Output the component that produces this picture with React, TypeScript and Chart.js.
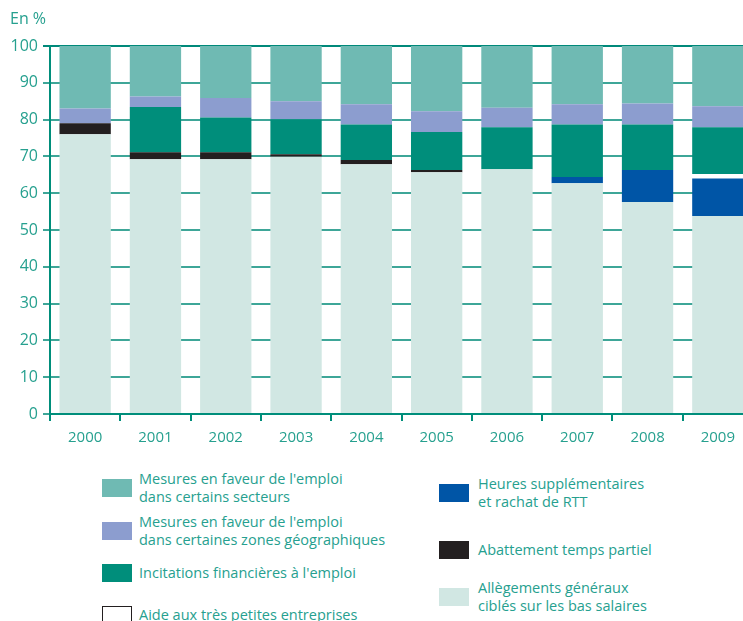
import React, { useEffect, useRef } from "react";
import Chart from "chart.js/auto";

const years = ["2000", "2001", "2002", "2003", "2004", "2005", "2006", "2007", "2008", "2009"];
const allegements = [76, 69.2, 69.2, 69.9, 67.9, 65.7, 66.5, 62.7, 57.6, 53.8];
const heuresSupp = [0, 0, 0, 0, 0, 0, 0, 1.7, 8.7, 10.2];
const abattement = [3, 1.9, 1.9, 0.7, 1.1, 0.6, 0, 0, 0, 0];
const aideTPE = [0, 0, 0, 0, 0, 0, 0, 0, 0, 1.2];
const incitations = [0, 12.3, 9.5, 9.5, 9.7, 10.3, 11.4, 14.3, 12.4, 12.7];
const zonesGeo = [4, 2.9, 5.3, 4.9, 5.5, 5.7, 5.3, 5.5, 5.7, 5.7];
const secteurs = [17, 13.7, 14.1, 15, 15.8, 17.7, 16.8, 15.8, 15.6, 16.4];
const yTicks = [0, 10, 20, 30, 40, 50, 60, 70, 80, 90, 100];

const TEXT = "#26a08f";
const FONT = "'Open Sans', sans-serif";

const C_SECT = "#6fbab3";
const C_ZONE = "#8c9dcf";
const C_INC = "#008e7b";
const C_TPE = "#ffffff";
const C_HS = "#0055a6";
const C_ABAT = "#231f20";
const C_ALL = "#d1e7e3";

export default function App() {
  const ref = useRef<HTMLCanvasElement | null>(null);
  useEffect(() => {
    if (!ref.current) return;
    const mk = (label: string, data: number[], color: string) => ({
      label,
      data,
      backgroundColor: color,
      borderWidth: 0,
      barPercentage: 0.73,
      categoryPercentage: 1,
    });
    const chart = new Chart(ref.current, {
      type: "bar",
      data: {
        labels: years,
        datasets: [
          mk("Allègements généraux ciblés sur les bas salaires", allegements, C_ALL),
          mk("Heures supplémentaires et rachat de RTT", heuresSupp, C_HS),
          mk("Abattement temps partiel", abattement, C_ABAT),
          mk("Aide aux très petites entreprises", aideTPE, C_TPE),
          mk("Incitations financières à l'emploi", incitations, C_INC),
          mk("Mesures en faveur de l'emploi dans certaines zones géographiques", zonesGeo, C_ZONE),
          mk("Mesures en faveur de l'emploi dans certains secteurs", secteurs, C_SECT),
        ],
      },
      options: {
        responsive: false,
        animation: false,
        layout: { padding: { top: 46, right: 7, left: 0, bottom: 0 } },
        plugins: { legend: { display: false }, tooltip: { enabled: false } },
        scales: {
          x: {
            stacked: true,
            offset: true,
            grid: {
              display: true,
              drawOnChartArea: false,
              drawTicks: true,
              tickLength: 7,
              color: "#008e7b",
              lineWidth: 2,
              offset: true,
            },
            border: { display: true, color: "#008e7b", width: 2 },
            ticks: {
              color: TEXT,
              font: { family: FONT, size: 15, lineHeight: 1.2 },
              padding: 8,
              maxRotation: 0,
            },
            afterFit: (s: any) => {
              s.height = 46;
            },
          },
          y: {
            stacked: true,
            min: 0,
            max: 100,
            afterBuildTicks: (s: any) => {
              s.ticks = yTicks.map((v) => ({ value: v }));
            },
            grid: {
              color: (ctx: any) => (ctx.tick && ctx.tick.value === 100 ? "#00897a" : "#3ea698"),
              lineWidth: 2,
              tickLength: 7,
              drawTicks: true,
            },
            border: { display: true, color: "#008e7b", width: 2 },
            ticks: {
              color: TEXT,
              font: { family: FONT, size: 16 },
              padding: 5,
            },
            afterFit: (s: any) => {
              s.width = 50;
            },
          },
        },
      },
    });
    return () => chart.destroy();
  }, []);

  const textStyle: React.CSSProperties = {
    color: TEXT,
    fontFamily: FONT,
    fontSize: 14.5,
    lineHeight: "18px",
    whiteSpace: "nowrap",
  };
  const item = (left: number, top: number, color: string, lines: string[], gap: number, outline = false) => (
    <div
      style={{ position: "absolute", left, top, display: "flex", alignItems: "center" }}
    >
      <div
        style={{
          width: 30,
          height: 18,
          background: color,
          boxSizing: "border-box",
          border: outline ? "1px solid #231f20" : "none",
          marginRight: gap,
          flex: "none",
        }}
      />
      <div style={textStyle}>
        {lines.map((l, i) => (
          <div key={i}>{l}</div>
        ))}
      </div>
    </div>
  );

  return (
    <div
      style={{
        position: "fixed",
        left: 0,
        top: 0,
        width: 760,
        height: 621,
        overflow: "hidden",
        background: "#ffffff",
      }}
    >
      <canvas ref={ref} width={760} height={460} style={{ width: 760, height: 460, display: "block" }} />
      <div
        style={{
          position: "absolute",
          left: 10,
          top: 8,
          color: TEXT,
          fontFamily: FONT,
          fontSize: 16,
          lineHeight: "20px",
        }}
      >
        En %
      </div>
      {item(102, 470, C_SECT, ["Mesures en faveur de l'emploi", "dans certains secteurs"], 7)}
      {item(102, 513, C_ZONE, ["Mesures en faveur de l'emploi", "dans certaines zones géographiques"], 7)}
      {item(102, 564, C_INC, ["Incitations financières à l'emploi"], 7)}
      {item(102, 606, C_TPE, ["Aide aux très petites entreprises"], 7, true)}
      {item(439, 475, C_HS, ["Heures supplémentaires", "et rachat de RTT"], 9)}
      {item(439, 541, C_ABAT, ["Abattement temps partiel"], 9)}
      {item(439, 579, C_ALL, ["Allègements généraux", "ciblés sur les bas salaires"], 9)}
    </div>
  );
}
